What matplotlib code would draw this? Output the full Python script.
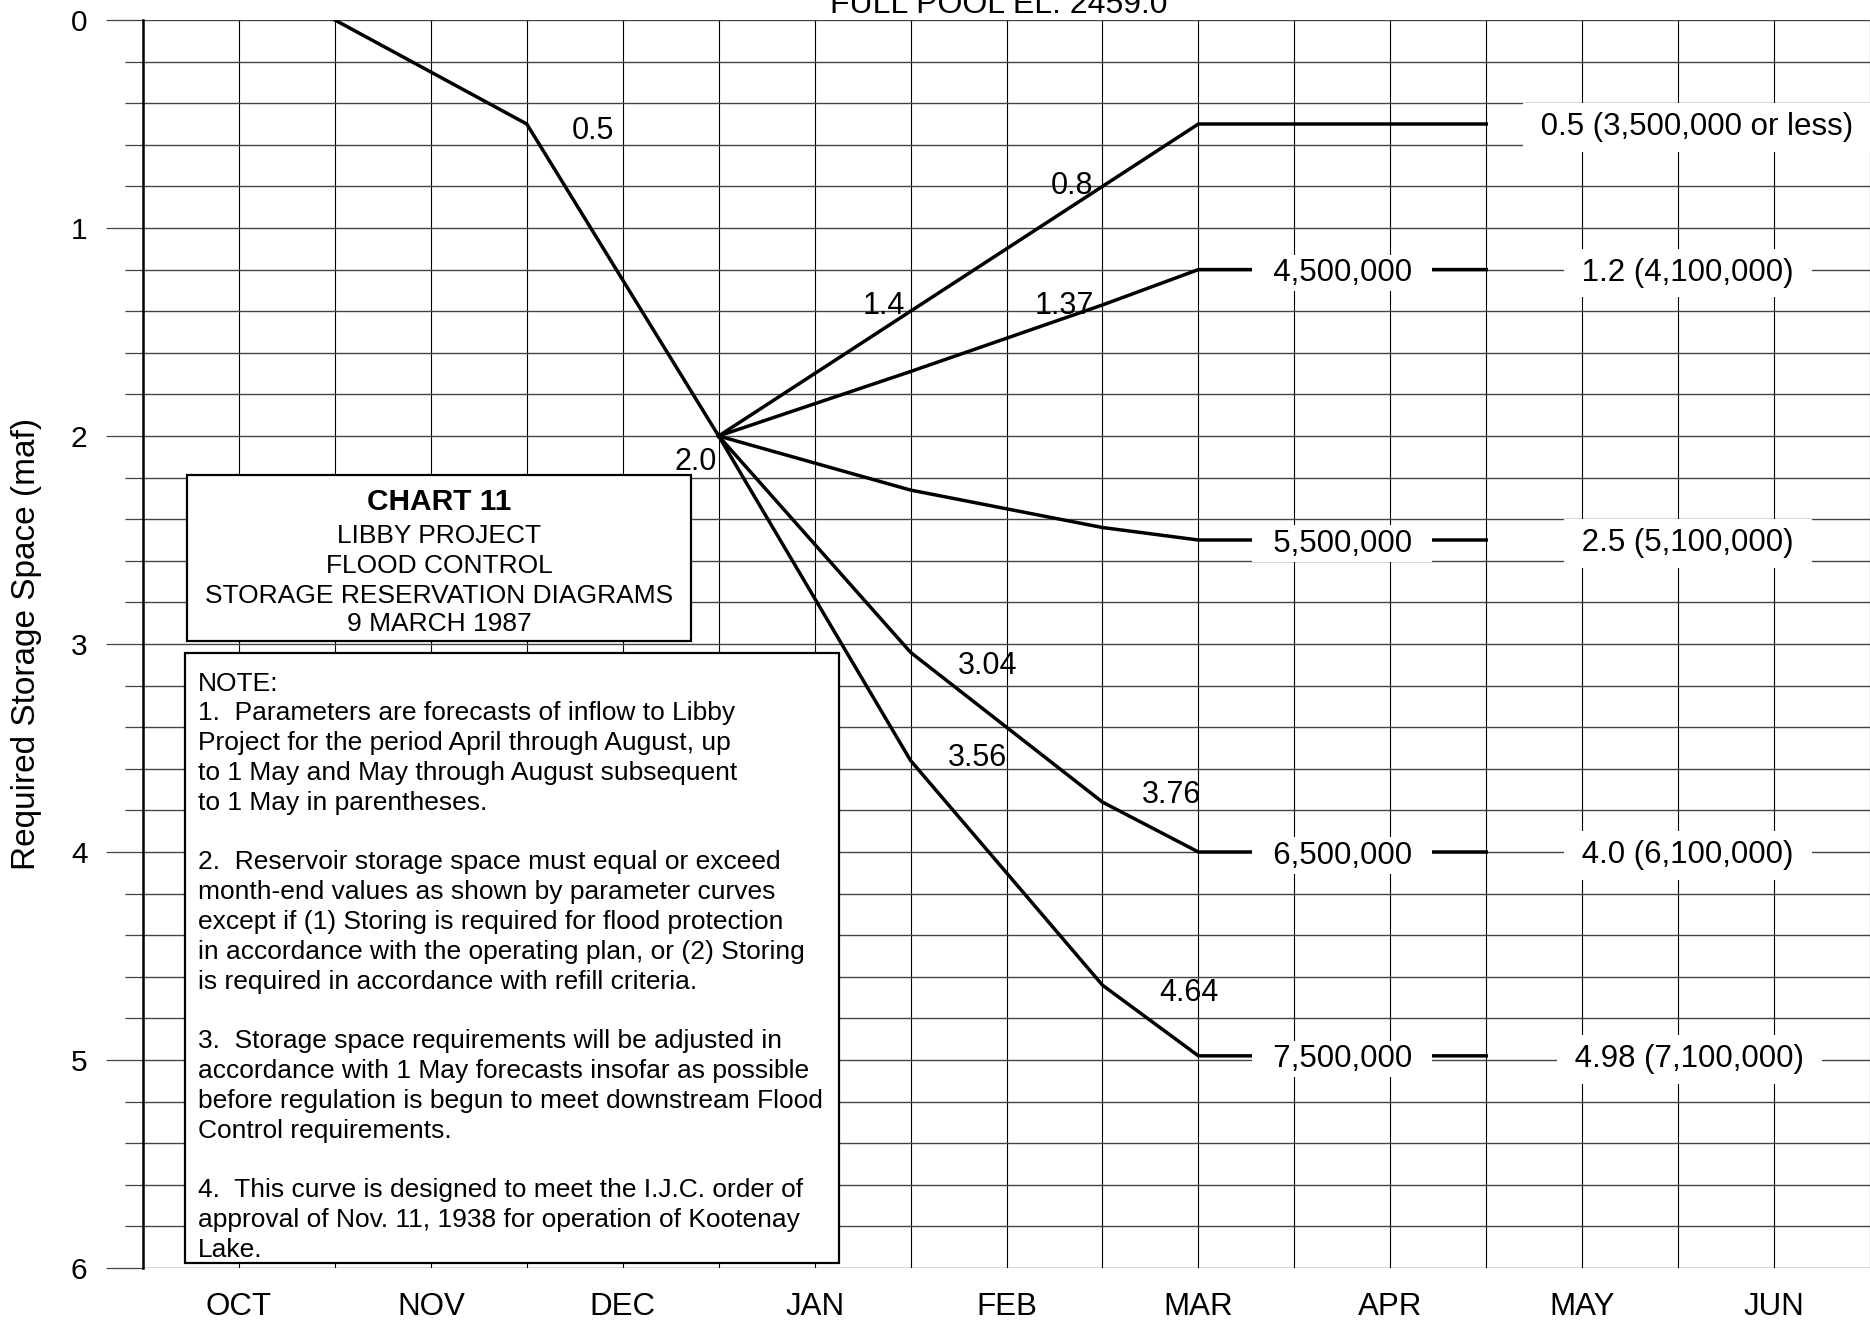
import matplotlib
matplotlib.use("Agg")
import matplotlib.pyplot as plt
import matplotlib.transforms as mtransforms
from matplotlib.patches import Rectangle
import numpy as np

plt.rcParams['font.family'] = ['Liberation Sans', 'DejaVu Sans']

# Months (labels sit in the middle of each month)
months = ['OCT', 'NOV', 'DEC', 'JAN', 'FEB', 'MAR', 'APR', 'MAY', 'JUN']

# Common drawdown Oct -> Dec (month-end)
base_x = [1, 2, 3]
base_y = [0.0, 0.5, 2.0]

# Parameter curves from end of Dec on
param_x = [3, 4, 5, 5.5, 7]
curve_35 = [2.0, 1.40, 0.80, 0.50, 0.50]
curve_45 = [2.0, 1.69, 1.37, 1.20, 1.20]
curve_55 = [2.0, 2.26, 2.44, 2.50, 2.50]
curve_65 = [2.0, 3.04, 3.76, 4.00, 4.00]
curve_75 = [2.0, 3.56, 4.64, 4.98, 4.98]
curves = [curve_35, curve_45, curve_55, curve_65, curve_75]

mid_labels = ['', '4,500,000', '5,500,000', '6,500,000', '7,500,000']
end_labels = ['0.5 (3,500,000 or less)', '1.2 (4,100,000)', '2.5 (5,100,000)',
              '4.0 (6,100,000)', '4.98 (7,100,000)']
end_label_x = [8.10, 8.05, 8.05, 8.05, 8.06]

# value labels next to the break points
point_labels = ['0.5', '2.0', '1.4', '0.8', '1.37', '3.04', '3.56', '3.76', '4.64']
point_label_x = [2.345, 2.88, 3.86, 4.84, 4.80, 4.40, 4.35, 5.36, 5.45]
point_label_y = [0.515, 2.11, 1.36, 0.78, 1.36, 3.09, 3.53, 3.71, 4.66]

chart_lines = ['CHART 11', 'LIBBY PROJECT', 'FLOOD CONTROL',
               'STORAGE RESERVATION DIAGRAMS', '9 MARCH 1987']
chart_line_y = [2.305, 2.471, 2.611, 2.755, 2.894]

note_lines = [
    'NOTE:',
    '1.  Parameters are forecasts of inflow to Libby',
    'Project for the period April through August, up',
    'to 1 May and May through August subsequent',
    'to 1 May in parentheses.',
    '',
    '2.  Reservoir storage space must equal or exceed',
    'month-end values as shown by parameter curves',
    'except if (1) Storing is required for flood protection',
    'in accordance with the operating plan, or (2) Storing',
    'is required in accordance with refill criteria.',
    '',
    '3.  Storage space requirements will be adjusted in',
    'accordance with 1 May forecasts insofar as possible',
    'before regulation is begun to meet downstream Flood',
    'Control requirements.',
    '',
    '4.  This curve is designed to meet the I.J.C. order of',
    'approval of Nov. 11, 1938 for operation of Kootenay',
    'Lake.',
]

fig = plt.figure(figsize=(18.7, 13.2), dpi=100)
ax = fig.add_axes([143 / 1870, 52 / 1320, 1727 / 1870, 1248 / 1320])
ax.set_xlim(0, 9)
ax.set_ylim(6, 0)

# axes, ticks, grid
ax.set_xticks(np.arange(len(months)) + 0.5)
ax.set_xticklabels(months, fontsize=22.5)
ax.set_xticks(np.arange(0, 10, 1), minor=True)
ax.set_yticks(range(0, 7))
ax.set_yticks(np.arange(0, 6.01, 0.2), minor=True)
ax.tick_params(axis='x', which='both', length=0, pad=17)
ax.tick_params(axis='y', which='major', length=27, width=0.9, color='#444444',
               pad=13, labelsize=21.5)
ax.tick_params(axis='y', which='minor', length=13, width=0.9, color='#444444')
ax.xaxis.grid(True, which='both', color='black', lw=0.8)
ax.yaxis.grid(True, which='both', color='#444444', lw=1.0)
ax.set_axisbelow(True)
for s in ['top', 'right', 'bottom']:
    ax.spines[s].set_visible(False)
ax.spines['left'].set_linewidth(1.8)

ax.set_ylabel('Required Storage Space (maf)', fontsize=24)
ax.yaxis.label.set_va('center')
ax.yaxis.set_label_coords(-0.0677, 0.5)

# curves
ax.plot(base_x, base_y, color='black', lw=2.5, zorder=3)
for c in curves:
    ax.plot(param_x, c, color='black', lw=2.5, zorder=3, solid_joinstyle='miter')

for c, lab in zip(curves, mid_labels):
    if lab:
        ax.text(6.25, c[-1], '  ' + lab + '  ', ha='center', va='center_baseline',
                fontsize=22.5, zorder=5,
                bbox=dict(boxstyle='square,pad=0.1', fc='white', ec='none'))

for c, lab, lx in zip(curves, end_labels, end_label_x):
    ax.text(lx, c[-1], ' ' + lab + ' ', ha='center', va='center_baseline',
            fontsize=22.5, zorder=5,
            bbox=dict(boxstyle='square,pad=0.3', fc='white', ec='none'))

for lab, lx, ly in zip(point_labels, point_label_x, point_label_y):
    ax.text(lx, ly, lab, ha='center', va='center_baseline', fontsize=22, zorder=5)

# top reference level (cut by the page edge, as in the original)
trans = mtransforms.blended_transform_factory(ax.transData, ax.transAxes)
ax.text(4.46, 1.0056, 'FULL POOL EL. 2459.0', transform=trans, ha='center',
        va='baseline', fontsize=23, clip_on=False)

# chart title box
ax.add_patch(Rectangle((0.229, 2.187), 2.627, 0.799, fc='white', ec='black',
                       lw=1.6, zorder=4))
for i, (line, ly) in enumerate(zip(chart_lines, chart_line_y)):
    ax.text(1.542, ly, line, ha='center', va='center_baseline', zorder=5,
            fontsize=21.5 if i == 0 else 19, fontweight='bold' if i == 0 else 'normal')

# notes box
ax.add_patch(Rectangle((0.219, 3.043), 3.408, 2.933, fc='white', ec='black',
                       lw=1.6, zorder=4))
for i, line in enumerate(note_lines):
    ax.text(0.287, 3.178 + i * 0.1433, line, ha='left', va='center_baseline',
            fontsize=19, zorder=5)

fig.savefig('out.png', dpi=100)
